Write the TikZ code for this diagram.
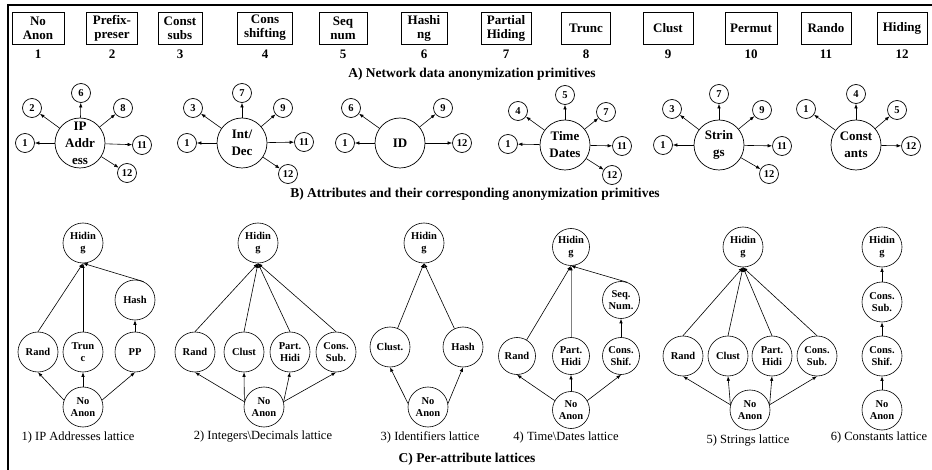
\documentclass[tikz,border=0pt]{standalone}
\usepackage{fontspec}
\setmainfont{Liberation Serif}
\usetikzlibrary{arrows.meta}

\begin{document}
\begin{tikzpicture}[x=1pt,y=-1pt,
  prim/.style={draw, line width=0.8pt, align=center, inner sep=0pt, minimum height=32pt,
    font=\bfseries\fontsize{13}{14}\selectfont},
  num/.style={inner sep=0pt, font=\bfseries\fontsize{13}{14}\selectfont},
  attr/.style={circle, draw, line width=0.7pt, minimum size=50pt, inner sep=-20pt, align=center,
    font=\bfseries\fontsize{13}{17}\selectfont},
  sat/.style={circle, draw, line width=0.7pt, minimum size=19pt, inner sep=-5pt,
    font=\bfseries\fontsize{10.5}{12}\selectfont},
  lat/.style={circle, draw, line width=0.6pt, minimum size=40pt, inner sep=-8pt, align=center,
    font=\bfseries\fontsize{10.5}{12.5}\selectfont},
  arr/.style={-{Latex[length=4.5pt,width=3.5pt]}, line width=0.6pt},
  sectitle/.style={inner sep=0pt, font=\bfseries\fontsize{13.5}{15}\selectfont},
  capt/.style={inner sep=0pt, font=\fontsize{12.5}{14}\selectfont}
]
\useasboundingbox (0,0) rectangle (932,470);

% outer frame (top and left rules)
\draw[line width=1.6pt] (7,5) -- (932,5);
\draw[line width=1.6pt] (8,5) -- (8,470);

% ---------------- A) primitives ----------------
\foreach \x/\w/\t/\n in {
    38/52/{No\\Anon}/1, 112/51/{Prefix-\\preser}/2, 180/44/{Const\\subs}/3,
    265/55/{Cons\\shifting}/4, 343/48/{Seq\\num}/5, 424/46/{Hashi\\ng}/6,
    506/50/{Partial\\Hiding}/7, 586/49/{Trunc}/8, 668/50/{Clust}/9,
    751/52/{Permut}/10, 826/50/{Rando}/11, 902/50/{Hiding}/12} {
  \node[prim, minimum width=\w pt] (p\n) at (\x,28) {\t};
  \node[num] (n\n) at (\x,54) {\n};
}
\node[sectitle] (ta) at (472,74) {A) Network data anonymization primitives};

% ---------------- B) attributes ----------------
% IP address
\node[attr] (ip) at (80,143) {IP\\Addr\\ess};
\node[sat] (ip1) at (25,143) {1};
\node[sat] (ip2) at (32,108) {2};
\node[sat] (ip6) at (81,93) {6};
\node[sat] (ip8) at (123,108) {8};
\node[sat] (ip11) at (142,145) {11};
\node[sat] (ip12) at (127,173) {12};
\foreach \s in {1,2,6,8,11,12} \draw[arr] (ip) -- (ip\s);

% integers / decimals
\node[attr] (in) at (242,143) {Int/\\Dec};
\node[sat] (in1) at (187,143) {1};
\node[sat] (in3) at (193,108) {3};
\node[sat] (in7) at (242,93) {7};
\node[sat] (in9) at (283,108) {9};
\node[sat] (in11) at (304,142) {11};
\node[sat] (in12) at (288,174) {12};
\foreach \s in {1,3,7,9,11,12} \draw[arr] (in) -- (in\s);

% identifiers
\node[attr] (id) at (400,143) {ID};
\node[sat] (id1) at (345,143) {1};
\node[sat] (id6) at (351,108) {6};
\node[sat] (id9) at (443,108) {9};
\node[sat] (id12) at (462,143) {12};
\foreach \s in {1,6,9,12} \draw[arr] (id) -- (id\s);

% time / dates
\node[attr] (td) at (565,145) {Time\\Dates};
\node[sat] (td1) at (508,144) {1};
\node[sat] (td4) at (518,111) {4};
\node[sat] (td5) at (565,95) {5};
\node[sat] (td7) at (606,112) {7};
\node[sat] (td11) at (622,146) {11};
\node[sat] (td12) at (612,175) {12};
\foreach \s in {1,4,5,7,11,12} \draw[arr] (td) -- (td\s);

% strings
\node[attr] (st) at (719,145) {Strin\\gs};
\node[sat] (st1) at (663,145) {1};
\node[sat] (st3) at (672,109) {3};
\node[sat] (st7) at (719,94) {7};
\node[sat] (st9) at (762,110) {9};
\node[sat] (st11) at (782,146) {11};
\node[sat] (st12) at (769,174) {12};
\foreach \s in {1,3,7,9,11,12} \draw[arr] (st) -- (st\s);

% constants
\node[attr] (co) at (856,145) {Const\\ants};
\node[sat] (co1) at (806,109) {1};
\node[sat] (co4) at (856,94) {4};
\node[sat] (co5) at (897,110) {5};
\node[sat] (co12) at (911,146) {12};
\foreach \s in {1,4,5,12} \draw[arr] (co) -- (co\s);

\node[sectitle] (tb) at (475,194) {B) Attributes and their corresponding anonymization primitives};

% ---------------- C) lattices ----------------
% 1) IP addresses
\node[lat] (a-top) at (83,243) {Hidin\\g};
\node[lat] (a-hash) at (135,300) {Hash};
\node[lat] (a-rand) at (38,352) {Rand};
\node[lat] (a-trunc) at (83,352) {Trun\\c};
\node[lat] (a-pp) at (135,352) {PP};
\node[lat] (a-bot) at (83,407) {No\\Anon};
\draw[arr] (a-rand.north) -- (a-top.south);
\draw[arr] (a-trunc) -- (a-top);
\draw[arr] (a-hash.65) -- (a-top.south);
\draw[arr] (a-pp) -- (a-hash);
\draw[arr] (a-bot.160) -- (a-rand.south);
\draw[arr] (a-bot) -- (a-trunc);
\draw[arr] (a-bot.20) -- (a-pp.south);
\node[capt] (a-cap) at (78,437) {1) IP Addresses lattice};

% 2) integers / decimals
\node[lat] (b-top) at (258,243) {Hidin\\g};
\node[lat] (b-rand) at (195,352) {Rand};
\node[lat] (b-clust) at (244,352) {Clust};
\node[lat] (b-part) at (290,352) {Part.\\Hidi};
\node[lat] (b-cons) at (336,352) {Cons.\\Sub.};
\node[lat] (b-bot) at (264,407) {No\\Anon};
\foreach \n in {rand,clust,part,cons} \draw[arr] (b-\n.north) -- (b-top.south);
\draw[arr] (b-bot.165) -- (b-rand.south);
\draw[arr] (b-bot.165) -- (b-clust.south);
\draw[arr] (b-bot.15) -- (b-part.south);
\draw[arr] (b-bot.15) -- (b-cons.south);
\node[capt] (b-cap) at (263,437) {2) Integers\textbackslash Decimals lattice};

% 3) identifiers
\node[lat] (c-top) at (424,243) {Hidin\\g};
\node[lat] (c-clust) at (390,347) {Clust.};
\node[lat] (c-hash) at (463,347) {Hash};
\node[lat] (c-bot) at (428,407) {No\\Anon};
\draw[arr] (c-clust) -- (c-top.south);
\draw[arr] (c-hash) -- (c-top.south);
\draw[arr] (c-bot.170) -- (c-clust.south);
\draw[arr] (c-bot.10) -- (c-hash.south);
\node[capt] (c-cap) at (430,437) {3) Identifiers lattice};

% 4) time / dates
\node[lat, minimum size=37pt] (d-top) at (571,247) {Hidin\\g};
\node[lat, minimum size=37pt] (d-seq) at (621,300) {Seq.\\Num.};
\node[lat, minimum size=37pt] (d-rand) at (517,356) {Rand};
\node[lat, minimum size=37pt] (d-part) at (571,356) {Part.\\Hidi};
\node[lat, minimum size=37pt] (d-cons) at (621,356) {Cons.\\Shif.};
\node[lat, minimum size=37pt] (d-bot) at (571,410) {No\\Anon};
\draw[arr] (d-rand) -- (d-top.south);
\draw[-{Latex[length=4.5pt,width=3.5pt,color=black]}, line width=0.9pt, black!50] (d-part) -- (d-top);
\draw[arr] (d-seq.70) -- (d-top.south);
\draw[arr] (d-cons) -- (d-seq);
\draw[arr] (d-bot.150) -- (d-rand.south);
\draw[arr] (d-bot) -- (d-part);
\draw[arr] (d-bot.30) -- (d-cons.south);
\node[capt] (d-cap) at (566,437) {4) Time\textbackslash Dates lattice};

% 5) strings
\node[lat] (e-top) at (743,247) {Hidin\\g};
\node[lat] (e-rand) at (683,356) {Rand};
\node[lat] (e-clust) at (728,356) {Clust};
\node[lat] (e-part) at (772,356) {Part.\\Hidi};
\node[lat] (e-cons) at (817,356) {Cons.\\Sub.};
\node[lat] (e-bot) at (750,410) {No\\Anon};
\foreach \n in {rand,clust,part,cons} \draw[arr] (e-\n.north) -- (e-top.south);
\draw[arr] (e-bot.165) -- (e-rand.south);
\draw[arr] (e-bot.165) -- (e-clust.south);
\draw[arr] (e-bot.15) -- (e-part.south);
\draw[arr] (e-bot.15) -- (e-cons.south);
\node[capt] (e-cap) at (748,441) {5) Strings lattice};

% 6) constants
\node[lat] (f-top) at (882,247) {Hidin\\g};
\node[lat] (f-sub) at (882,302) {Cons.\\Sub.};
\node[lat] (f-shif) at (882,356) {Cons.\\Shif.};
\node[lat] (f-bot) at (882,410) {No\\Anon};
\draw[arr] (f-sub) -- (f-top);
\draw[arr] (f-shif) -- (f-sub);
\draw[arr] (f-bot) -- (f-shif);
\node[capt] (f-cap) at (879,437) {6) Constants lattice};

\node[sectitle] (tc) at (467,459) {C) Per-attribute lattices};
\end{tikzpicture}
\end{document}
